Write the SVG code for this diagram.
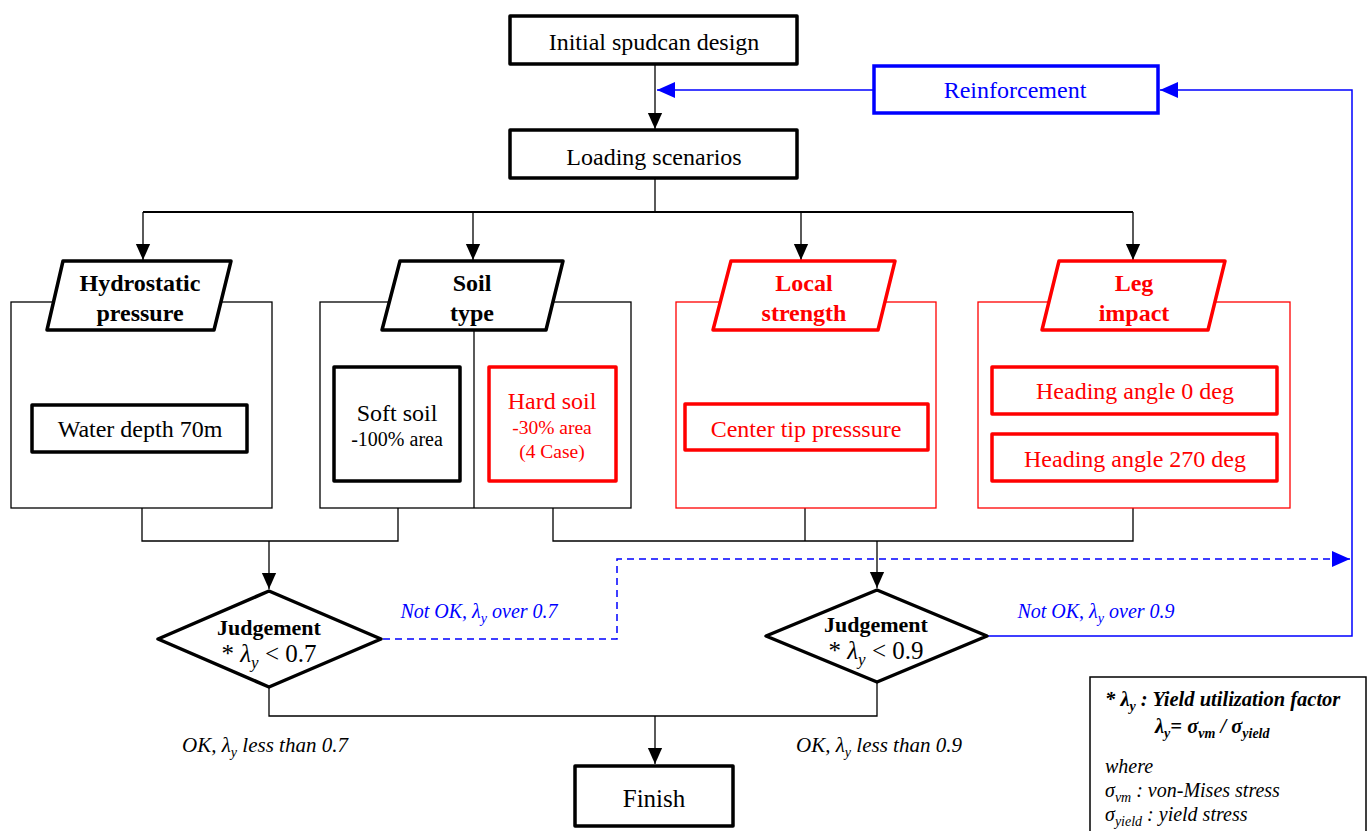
<svg xmlns="http://www.w3.org/2000/svg" width="1370" height="831" viewBox="0 0 1370 831" font-family="'Liberation Serif','Times New Roman',serif">
<style>
text{font-family:"Liberation Serif","Times New Roman",serif;text-anchor:middle}
.lbl{font-size:24px}
.b{font-weight:bold}
.thick{fill:#fff;stroke:#000;stroke-width:3.5;stroke-linejoin:round}
.thickr{fill:#fff;stroke:#f00;stroke-width:3.5;stroke-linejoin:round}
.outer{fill:none;stroke:#000;stroke-width:1.3}
.outerr{fill:none;stroke:#f00;stroke-width:1.3}
.con{fill:none;stroke:#000;stroke-width:1.3}
.blue{fill:none;stroke:#00f;stroke-width:1.5}
.red{fill:#f00}
.bl{fill:#00f}
.it{font-style:italic;font-size:20px}
.lg{text-anchor:start;font-style:italic;font-size:20px}
</style>
<defs>
<marker id="ah" markerUnits="userSpaceOnUse" markerWidth="16" markerHeight="18" refX="18" refY="8" orient="auto" viewBox="0 0 18 16">
<path d="M0,0 L18,8 L0,16 z" fill="#000"/>
</marker>
<marker id="ahb" markerUnits="userSpaceOnUse" markerWidth="18" markerHeight="16" refX="18" refY="8" orient="auto" viewBox="0 0 18 16">
<path d="M0,0 L18,8 L0,16 z" fill="#00f"/>
</marker>
</defs>

<g id="connectors">
<line class="con" x1="655" y1="64" x2="655" y2="129" marker-end="url(#ah)"/>
<polyline class="con" points="655,178 655,212"/>
<polyline class="con" points="143,212 1133,212" style="stroke-width:2"/>
<line class="con" x1="143" y1="212" x2="143" y2="260" marker-end="url(#ah)"/>
<line class="con" x1="473" y1="212" x2="473" y2="260" marker-end="url(#ah)"/>
<line class="con" x1="801" y1="212" x2="801" y2="260" marker-end="url(#ah)"/>
<line class="con" x1="1133" y1="212" x2="1133" y2="260" marker-end="url(#ah)"/>
<polyline class="con" points="142,508 142,541 398,541 398,508"/>
<line class="con" x1="269" y1="541" x2="269" y2="589" marker-end="url(#ah)"/>
<polyline class="con" points="553,508 553,541 1133,541 1133,508"/>
<line class="con" x1="805" y1="508" x2="805" y2="541"/>
<line class="con" x1="877" y1="541" x2="877" y2="588" marker-end="url(#ah)"/>
<polyline class="con" points="269,687 269,716 877,716 877,682"/>
<line class="con" x1="655" y1="716" x2="655" y2="764" marker-end="url(#ah)"/>
<polyline class="blue" points="988,636 1352,636 1352,90 1160,90" marker-end="url(#ahb)"/>
<line class="blue" x1="874" y1="90" x2="657" y2="90" marker-end="url(#ahb)"/>
<polyline class="blue" points="383,639 617,639 617,559 1350,559" stroke-dasharray="7,5" marker-end="url(#ahb)"/>
</g>

<g id="initial">
<rect class="thick" x="510" y="16" width="287" height="48"/>
<text class="lbl" x="654" y="50">Initial spudcan design</text>
</g>
<g id="loading">
<rect class="thick" x="510" y="130" width="287" height="48"/>
<text class="lbl" x="654" y="165">Loading scenarios</text>
</g>
<g id="reinforcement">
<rect x="874" y="66" width="284" height="47" fill="#fff" stroke="#00f" stroke-width="3.5"/>
<text class="lbl bl" x="1015" y="98">Reinforcement</text>
</g>

<g id="hydrostatic">
<rect class="outer" x="11" y="302" width="261" height="206"/>
<polygon class="thick" points="63,261 231,261 214,330 47,330"/>
<text class="lbl b" x="140" y="291">Hydrostatic</text>
<text class="lbl b" x="140" y="321">pressure</text>
<rect class="thick" x="32" y="405" width="215" height="47"/>
<text class="lbl" x="140" y="437">Water depth 70m</text>
</g>

<g id="soil">
<rect class="outer" x="320" y="302" width="311" height="206"/>
<line class="outer" x1="474" y1="330" x2="474" y2="508"/>
<polygon class="thick" points="400,261 563,261 546,330 382,330"/>
<text class="lbl b" x="472" y="291">Soil</text>
<text class="lbl b" x="472" y="321">type</text>
<rect class="thick" x="334" y="367" width="126" height="114"/>
<text x="397" y="421" style="font-size:24px">Soft soil</text>
<text x="397" y="446" style="font-size:20px">-100% area</text>
<rect class="thickr" x="489" y="367" width="127" height="114"/>
<text class="red" x="552" y="409" style="font-size:24px">Hard soil</text>
<text class="red" x="552" y="434" style="font-size:19.5px">-30% area</text>
<text class="red" x="552" y="458" style="font-size:19.5px">(4 Case)</text>
</g>

<g id="local">
<rect class="outerr" x="676" y="302" width="260" height="206"/>
<polygon class="thickr" points="731,261 895,261 878,330 713,330"/>
<text class="lbl b red" x="804" y="291">Local</text>
<text class="lbl b red" x="804" y="321">strength</text>
<rect class="thickr" x="685" y="404" width="243" height="46"/>
<text class="lbl red" x="806" y="437">Center tip presssure</text>
</g>

<g id="leg">
<rect class="outerr" x="978" y="302" width="312" height="206"/>
<polygon class="thickr" points="1059,261 1225,261 1208,330 1042,330"/>
<text class="lbl b red" x="1134" y="291">Leg</text>
<text class="lbl b red" x="1134" y="321">impact</text>
<rect class="thickr" x="992" y="367" width="285" height="47"/>
<text class="lbl red" x="1135" y="399">Heading angle 0 deg</text>
<rect class="thickr" x="992" y="434" width="285" height="47"/>
<text class="lbl red" x="1135" y="467">Heading angle 270 deg</text>
</g>

<g id="judgement1">
<polygon class="thick" points="158,639 269,591 381,639 269,687"/>
<text class="b" x="269" y="635" style="font-size:22px">Judgement</text>
<text x="269" y="662" style="font-size:25px">* <tspan font-style="italic">λ</tspan><tspan font-style="italic" font-size="17" dy="6">y</tspan><tspan dy="-6"> &lt; 0.7</tspan></text>
</g>

<g id="judgement2">
<polygon class="thick" points="766,636 877,590 987,636 877,682"/>
<text class="b" x="876" y="632" style="font-size:22px">Judgement</text>
<text x="876" y="659" style="font-size:25px">* <tspan font-style="italic">λ</tspan><tspan font-style="italic" font-size="17" dy="6">y</tspan><tspan dy="-6"> &lt; 0.9</tspan></text>
</g>

<g id="finish">
<rect class="thick" x="575" y="766" width="158" height="60"/>
<text x="654" y="807" style="font-size:25px">Finish</text>
</g>

<g id="labels">
<text class="it bl" x="479" y="618">Not OK, λ<tspan font-size="14" dy="5">y</tspan><tspan dy="-5"> over 0.7</tspan></text>
<text class="it bl" x="1096" y="618">Not OK, λ<tspan font-size="14" dy="5">y</tspan><tspan dy="-5"> over 0.9</tspan></text>
<text class="it" x="265" y="752" style="font-size:21px">OK, λ<tspan font-size="14" dy="5">y</tspan><tspan dy="-5"> less than 0.7</tspan></text>
<text class="it" x="879" y="752" style="font-size:21px">OK, λ<tspan font-size="14" dy="5">y</tspan><tspan dy="-5"> less than 0.9</tspan></text>
</g>

<g id="legend">
<rect x="1090" y="677" width="276" height="170" fill="#fff" stroke="#000" stroke-width="1.5"/>
<text class="lg b" x="1105" y="706" style="font-size:20.5px">* λ<tspan font-size="14" dy="5">y</tspan><tspan dy="-5"> : Yield utilization factor</tspan></text>
<text class="lg b" x="1155" y="733" style="font-size:20.5px">λ<tspan font-size="14" dy="5">y</tspan><tspan dy="-5">= σ</tspan><tspan font-size="14" dy="5">vm</tspan><tspan dy="-5"> / σ</tspan><tspan font-size="14" dy="5">yield</tspan></text>
<text class="lg" x="1105" y="773">where</text>
<text class="lg" x="1105" y="797">σ<tspan font-size="14" dy="5">vm</tspan><tspan dy="-5"> : von-Mises stress</tspan></text>
<text class="lg" x="1105" y="821">σ<tspan font-size="14" dy="5">yield</tspan><tspan dy="-5"> : yield stress</tspan></text>
</g>
</svg>
